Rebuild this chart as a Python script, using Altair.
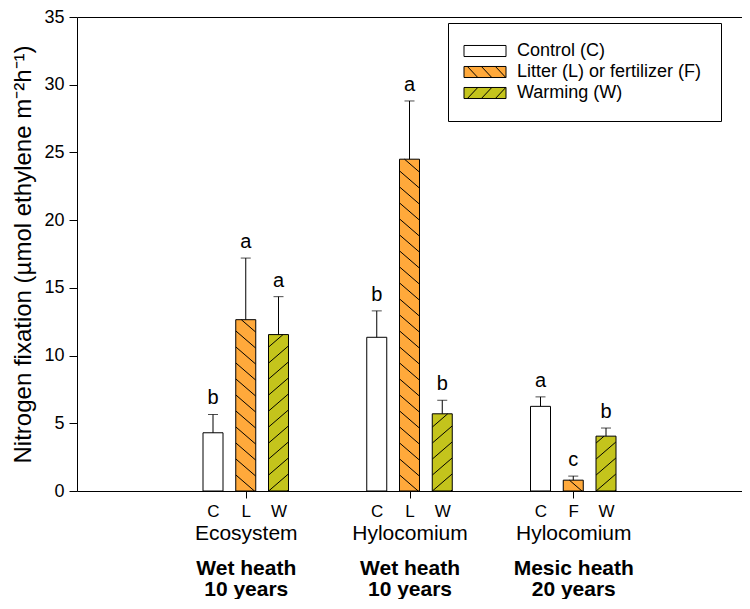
import altair as alt
import pandas as pd

# ---------------- data ----------------
groups = [1, 2, 3]
organism = ["Ecosystem", "Hylocomium", "Hylocomium"]
site_line1 = ["Wet heath", "Wet heath", "Mesic heath"]
site_line2 = ["10 years", "10 years", "20 years"]

bar_pos = [0.8, 1.0, 1.2, 1.8, 2.0, 2.2, 2.8, 3.0, 3.2]
bar_letter = ["C", "L", "W", "C", "L", "W", "C", "F", "W"]
treatment = ["Control (C)", "Litter (L) or fertilizer (F)", "Warming (W)"] * 3
means = [4.3, 12.65, 11.55, 11.35, 24.5, 5.7, 6.25, 0.8, 4.05]
upper = [5.65, 17.2, 14.35, 13.3, 28.8, 6.7, 6.95, 1.1, 4.65]
sig = ["b", "a", "a", "b", "a", "b", "a", "c", "b"]

legend_order = ["Control (C)", "Litter (L) or fertilizer (F)", "Warming (W)"]
colors = ["#FFFFFF", "#FFA93B", "#C4C41C"]
hatch_dir = [0, -1, 1]          # 0 none, -1 "\", 1 "/"
y_ticks = [0, 5, 10, 15, 20, 25, 30, 35]

# ---------------- styles ----------------
W, H = 665, 474
XMAX, YMAX = 4, 35
BAR_PX = 20
HATCH_SP_PX = 16
HATCH_DROP_PX = 17
FONT = "Liberation Sans"

df = pd.DataFrame({"pos": bar_pos, "letter": bar_letter, "treat": treatment,
                   "mean": means, "upper": upper, "sig": sig})

# hatch segments derived from bar data (converted from pixel styling)
ux, uy = W / XMAX, H / YMAX
hw = BAR_PX / 2 / ux
sp = HATCH_SP_PX / uy
d = HATCH_DROP_PX / uy
rows = []
for p, m, t in zip(bar_pos, means, treatment):
    dirn = hatch_dir[legend_order.index(t)]
    if dirn == 0:
        continue
    xl, xr = p - hw, p + hw
    k = int(-d / sp) - 2
    while k * sp <= m + d:
        c = k * sp
        if dirn < 0:
            t0, t1 = max(0.0, (c - m) / d), min(1.0, c / d)
        else:
            t0, t1 = max(0.0, -c / d), min(1.0, (m - c) / d)
        if t1 > t0 + 1e-6:
            rows.append({"hx": xl + t0 * (xr - xl), "hx2": xl + t1 * (xr - xl),
                         "hy": c + dirn * t0 * d, "hy2": c + dirn * t1 * d})
        k += 1
hatch = pd.DataFrame(rows)

# legend symbol paths (k = 8 px / unit)
rx, ry, run = 2.625, 0.69, 1.3
rect = f"M{-rx},{-ry}L{rx},{-ry}L{rx},{ry}L{-rx},{ry}Z"
starts = [-2.2, -0.45, 1.3]
back = rect + "".join(f"M{x0},{-ry}L{x0 + run},{ry}" for x0 in starts)
fwd = rect + "".join(f"M{x0},{ry}L{x0 + run},{-ry}" for x0 in starts)
paths = [rect, back, fwd]

xs = alt.Scale(domain=[0, XMAX], nice=False, zero=False)
ys = alt.Scale(domain=[0, YMAX], nice=False)
fill_scale = alt.Scale(domain=legend_order, range=colors)
shape_scale = alt.Scale(domain=legend_order, range=paths)
stroke_scale = alt.Scale(domain=legend_order, range=["black"] * len(legend_order))

leg = dict(title=None, orient="none", legendX=371, legendY=6, labelFontSize=18,
           labelFont=FONT, labelColor="black", labelLimit=400, symbolSize=256,
           symbolOffset=9, labelOffset=23, padding=19, rowPadding=3,
           strokeColor="black", fillColor="white", symbolStrokeWidth=1)


def expr_for(values, labels):
    e = "''"
    for v, l in reversed(list(zip(values, labels))):
        e = f"abs(datum.value - {v}) < 0.001 ? {l} : {e}"
    return e


org_expr = expr_for(groups, [f"'{o}'" for o in organism])
letter_expr = expr_for(bar_pos, [f"'{l}'" for l in bar_letter])
site_expr = expr_for(groups, [f"['{a}', '{b}']" for a, b in zip(site_line1, site_line2)])

axis_org = alt.Axis(orient="bottom", values=groups, labelExpr=org_expr, tickSize=7,
                    labelPadding=24, labelFontSize=21, domain=False, grid=False, title=None)
axis_letters = alt.Axis(orient="bottom", values=bar_pos, labelExpr=letter_expr, ticks=False,
                        tickSize=0, labelPadding=12, labelFontSize=17, domain=False,
                        grid=False, title=None)
axis_site = alt.Axis(orient="bottom", values=groups, labelExpr=site_expr, ticks=False,
                     tickSize=0, labelPadding=66, labelFontSize=21, labelFontWeight="bold",
                     labelLineHeight=21, domain=False, grid=False, title=None)
axis_y = alt.Axis(orient="left", values=y_ticks, tickSize=8, labelPadding=5, labelFontSize=18,
                  grid=False, title="Nitrogen fixation (µmol ethylene m⁻²h⁻¹)",
                  titleFontSize=24, titleFontWeight="normal", titlePadding=8, domain=False)

base = alt.Chart(df)

legend_pts = base.mark_point(filled=True, size=0, opacity=1, strokeWidth=1).encode(
    x=alt.X("pos:Q", scale=xs, axis=None),
    y=alt.Y("mean:Q", scale=ys, axis=None),
    fill=alt.Fill("treat:N", scale=fill_scale, legend=alt.Legend(**leg)),
    shape=alt.Shape("treat:N", scale=shape_scale, legend=alt.Legend(**leg)),
    stroke=alt.Stroke("treat:N", scale=stroke_scale, legend=alt.Legend(**leg)),
)

bars = base.mark_bar(orient="vertical", size=BAR_PX, stroke="black", strokeWidth=1).encode(
    x=alt.X("pos:Q", scale=xs, axis=axis_org),
    y=alt.Y("mean:Q", scale=ys, axis=axis_y),
    fill=alt.Fill("treat:N", scale=fill_scale, legend=None),
)

hatch_lines = alt.Chart(hatch).mark_rule(color="black", strokeWidth=1).encode(
    x=alt.X("hx:Q", scale=xs, axis=axis_letters),
    x2="hx2:Q",
    y=alt.Y("hy:Q", scale=ys, axis=None),
    y2="hy2:Q",
)

err = base.mark_rule(color="black", strokeWidth=1).encode(
    x=alt.X("pos:Q", scale=xs, axis=axis_site),
    y=alt.Y("mean:Q", scale=ys, axis=None),
    y2="upper:Q",
)

caps = base.mark_tick(orient="horizontal", size=10, thickness=1, color="black").encode(
    x=alt.X("pos:Q", scale=xs, axis=None),
    y=alt.Y("upper:Q", scale=ys, axis=None),
)

letters = base.mark_text(baseline="bottom", dy=-6, fontSize=20, font=FONT, color="black").encode(
    x=alt.X("pos:Q", scale=xs, axis=None),
    y=alt.Y("upper:Q", scale=ys, axis=None),
    text="sig:N",
)

chart = alt.layer(legend_pts, bars, hatch_lines, err, caps, letters).resolve_axis(
    x="independent", y="independent"
).properties(
    width=W, height=H, padding={"left": 3, "top": 0, "right": 0, "bottom": 0}
).configure_view(
    stroke="black", strokeWidth=1
).configure_axis(
    domainColor="black", tickColor="black", labelColor="black", titleColor="black",
    labelFont=FONT, titleFont=FONT
)

chart.save("out.html", embed_options={"renderer": "svg", "actions": False})
